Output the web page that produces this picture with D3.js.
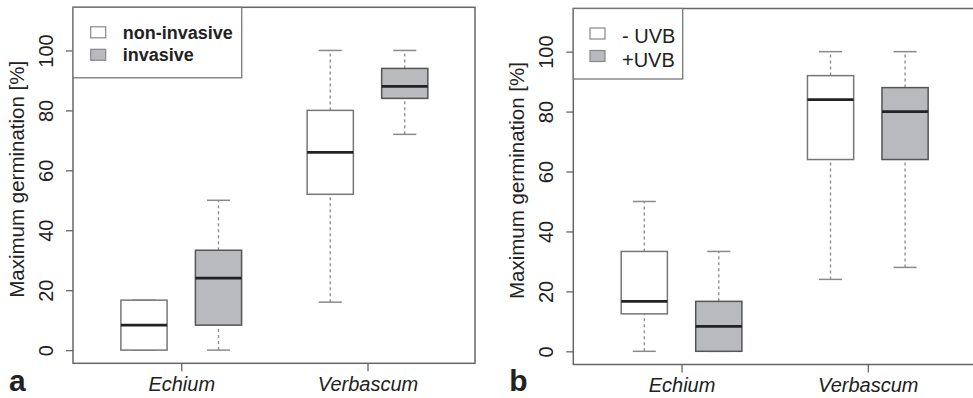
<!DOCTYPE html>
<html>
<head>
<meta charset="utf-8">
<script src="https://cdn.jsdelivr.net/npm/d3@7"></script>
<style>
  body { margin: 0; background: #fff; }
  svg { display: block; font-family: "Liberation Sans", Arial, sans-serif; }
</style>
</head>
<body>
<div id="vis"></div>
<script>
// chart size
const FRAME_WIDTH = 973;
const FRAME_HEIGHT = 398;

// data: categories, groups and box statistics [min, q1, median, q3, max]
const SPECIES = ["Echium", "Verbascum"];
const GROUPS_A = ["non-invasive", "invasive"];
const GROUPS_B = ["- UVB", "+UVB"];
const Y_TICKS = [0, 20, 40, 60, 80, 100];

const STATS_A = [
  [0, 0, 8.33, 16.67, 16.67],     // Echium non-invasive
  [0, 8.33, 24, 33.33, 50],       // Echium invasive
  [16, 52, 66, 80, 100],          // Verbascum non-invasive
  [72, 84, 88, 94, 100]           // Verbascum invasive
];
const STATS_B = [
  [0, 12.5, 16.67, 33.33, 50],    // Echium -UVB
  [0, 0, 8.33, 16.67, 33.33],     // Echium +UVB
  [24, 64, 84, 92, 100],          // Verbascum -UVB
  [28, 64, 80, 88, 100]           // Verbascum +UVB
];

const FILLS = ["#ffffff", "#b9babd"];

const svg = d3.select("#vis")
  .append("svg")
    .attr("width", FRAME_WIDTH)
    .attr("height", FRAME_HEIGHT);

// draw one panel
function drawPanel(opt) {
  const W = 402;
  const g = svg.append("g")
    .attr("transform", "translate(" + opt.left + "," + opt.top + ")");

  const Y_SCALE = d3.scaleLinear().domain([-4.4, 114.4]).range([356, 0]);
  // box positions like R boxplot 'at' = 1, 2, 3.5, 4.5
  const X_SCALE = d3.scaleLinear().domain([0.047, 5.443]).range([0, W]);
  const POS = [1, 2, 3.5, 4.5];
  const TICK_POS = [1.5, 4];
  const BW = 0.62;

  // boxes
  opt.stats.forEach((s, i) => {
    const cx = X_SCALE(POS[i]);
    const hw = (X_SCALE(BW) - X_SCALE(0)) / 2;
    const fill = FILLS[i % 2];
    const stroke = i % 2 ? "#555" : "#777";
    // whiskers
    g.append("line")
      .attr("x1", cx).attr("x2", cx)
      .attr("y1", Y_SCALE(s[3])).attr("y2", Y_SCALE(s[4]))
      .attr("stroke", "#8a8a8a").attr("stroke-width", 1.3)
      .attr("stroke-dasharray", "3,3");
    g.append("line")
      .attr("x1", cx).attr("x2", cx)
      .attr("y1", Y_SCALE(s[0])).attr("y2", Y_SCALE(s[1]))
      .attr("stroke", "#8a8a8a").attr("stroke-width", 1.3)
      .attr("stroke-dasharray", "3,3");
    [s[0], s[4]].forEach((v) => {
      g.append("line")
        .attr("x1", cx - hw / 2).attr("x2", cx + hw / 2)
        .attr("y1", Y_SCALE(v)).attr("y2", Y_SCALE(v))
        .attr("stroke", "#8a8a8a").attr("stroke-width", 1.5);
    });
    g.append("rect")
      .attr("x", cx - hw).attr("width", 2 * hw)
      .attr("y", Y_SCALE(s[3]))
      .attr("height", Y_SCALE(s[1]) - Y_SCALE(s[3]))
      .attr("fill", fill)
      .attr("stroke", stroke).attr("stroke-width", 1.5);
    g.append("line")
      .attr("x1", cx - hw).attr("x2", cx + hw)
      .attr("y1", Y_SCALE(s[2])).attr("y2", Y_SCALE(s[2]))
      .attr("stroke", "#222").attr("stroke-width", 2.7);
  });

  // plot border (right side runs off the picture)
  g.append("rect")
    .attr("x", 0).attr("y", 0)
    .attr("width", W).attr("height", 356)
    .attr("fill", "none")
    .attr("stroke", "#666").attr("stroke-width", 1.5);

  // y axis, labels parallel to the axis
  const yAxis = g.append("g")
    .call(d3.axisLeft(Y_SCALE).tickValues(Y_TICKS).tickSize(7).tickPadding(0));
  yAxis.select(".domain").remove();
  yAxis.selectAll(".tick line").attr("stroke", "#666").attr("stroke-width", 1.3);
  yAxis.selectAll(".tick text")
    .attr("x", 0).attr("y", -27).attr("dy", "0.35em")
    .attr("transform", "rotate(-90)")
    .attr("fill", "#222")
    .attr("font-size", 20)
    .attr("font-family", "Liberation Sans, Arial, sans-serif")
    .attr("text-anchor", "middle");

  // x axis
  const xAxis = g.append("g")
    .attr("transform", "translate(0,356)")
    .call(d3.axisBottom(X_SCALE).tickValues(TICK_POS).tickSize(8)
      .tickFormat((d, i) => SPECIES[i]).tickPadding(6 - (opt.top - 7.3)));
  xAxis.select(".domain").remove();
  xAxis.selectAll(".tick line").attr("stroke", "#666").attr("stroke-width", 1.3);
  xAxis.selectAll(".tick text")
    .attr("fill", "#222")
    .attr("font-size", 20)
    .attr("font-style", "italic")
    .attr("font-family", "Liberation Sans, Arial, sans-serif");

  // y title
  svg.append("text")
    .attr("transform", "translate(" + (opt.left - 49) + "," + (opt.top + 172) + ") rotate(-90)")
    .attr("text-anchor", "middle")
    .attr("font-size", 20.5)
    .attr("fill", "#222")
    .text("Maximum germination [%]");

  // legend
  const lg = g.append("g");
  lg.append("rect")
    .attr("x", 0).attr("y", 0)
    .attr("width", opt.legendW).attr("height", 70.5)
    .attr("fill", "#fff")
    .attr("stroke", "#777").attr("stroke-width", 1.3);
  opt.groups.forEach((name, i) => {
    lg.append("rect")
      .attr("x", opt.legendSq).attr("y", 19.5 + i * 22.5)
      .attr("width", 15).attr("height", 11)
      .attr("fill", FILLS[i])
      .attr("stroke", "#888").attr("stroke-width", 1.2);
    lg.append("text")
      .attr("x", opt.legendSq + 32)
      .attr("y", opt.legendBase + i * opt.legendStep)
      .attr("font-size", opt.legendFs)
      .attr("font-weight", opt.legendBold ? "bold" : "normal")
      .attr("fill", "#222")
      .text(name);
  });

  // panel letter
  svg.append("text")
    .attr("x", opt.left - 64).attr("y", 391)
    .attr("font-size", 30)
    .attr("font-weight", "bold")
    .attr("fill", "#222")
    .text(opt.letter);
}

drawPanel({ left: 73, top: 7.3, stats: STATS_A, groups: GROUPS_A, letter: "a",
  legendW: 168.7, legendSq: 17.7, legendBase: 31.5, legendStep: 22, legendFs: 18, legendBold: true });
drawPanel({ left: 573.3, top: 8.5, stats: STATS_B, groups: GROUPS_B, letter: "b",
  legendW: 109.4, legendSq: 16.7, legendBase: 34, legendStep: 24, legendFs: 20, legendBold: false });
</script>
</body>
</html>
